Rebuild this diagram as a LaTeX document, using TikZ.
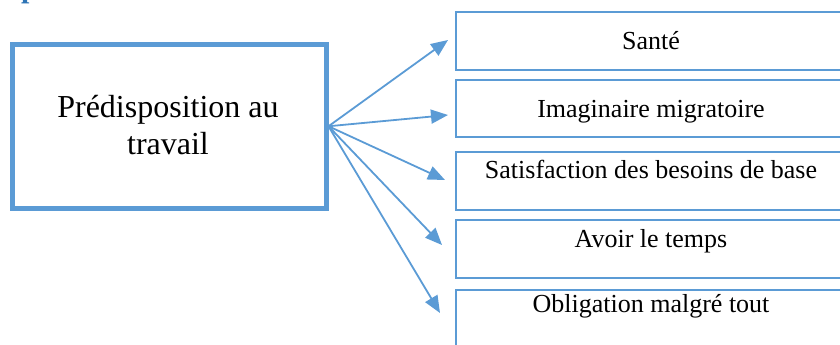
\documentclass[tikz,border=0pt]{standalone}
\usepackage{fontspec}
\setmainfont{Liberation Serif}
\usetikzlibrary{arrows.meta}
\definecolor{boxblue}{HTML}{5B9BD5}
\definecolor{headblue}{HTML}{2E74B5}
\tikzset{
  mainbox/.style={draw=boxblue, line width=5pt, minimum width=313.5pt, minimum height=163.5pt, inner sep=0pt},
  itembox/.style={draw=boxblue, line width=1.8pt, minimum width=390pt, inner sep=0pt},
  itemtext/.style={anchor=base, inner sep=0pt, font=\fontsize{26}{30}\selectfont},
  link/.style={draw=boxblue, line width=1.8pt, -{Triangle[length=17pt,width=14pt]}}
}
\begin{document}
\begin{tikzpicture}[x=1pt,y=-1pt]
\useasboundingbox (0,0) rectangle (840,345);
\begin{scope}
\clip (0,0) rectangle (840,345);
% tail of the heading line above the figure
\node[anchor=base west, inner sep=0pt, text=headblue, font=\fontsize{30}{34}\selectfont\bfseries] (head) at (21,-2) {p};

% central box
\node[mainbox] (main) at (169.25,126.25) {};
\node[align=center, inner sep=0pt, font=\fontsize{32}{37}\selectfont] (maintext) at (168,125) {Prédisposition au\\travail};

% item boxes
\node[itembox, minimum height=58pt] (b1) at (651,41) {};
\node[itembox, minimum height=57pt] (b2) at (651,108.5) {};
\node[itembox, minimum height=58pt] (b3) at (651,181) {};
\node[itembox, minimum height=58pt] (b4) at (651,249) {};
\node[itembox, minimum height=58pt] (b5) at (651,319) {};

\node[itemtext] (t1) at (651,49) {Santé};
\node[itemtext] (t2) at (651,117) {Imaginaire migratoire};
\node[itemtext] (t3) at (651,178) {Satisfaction des besoins de base};
\node[itemtext] (t4) at (651,247) {Avoir le temps};
\node[itemtext] (t5) at (651,312) {Obligation malgré tout};

% arrow tips
\coordinate (p1) at (448,40);
\coordinate (p2) at (448,115);
\coordinate (p3) at (445,180);
\coordinate (p4) at (442,245);
\coordinate (p5) at (440,313);

\foreach \i in {1,...,5}{
  \draw[link] (main.east) -- (p\i);
}
\end{scope}
\end{tikzpicture}
\end{document}
